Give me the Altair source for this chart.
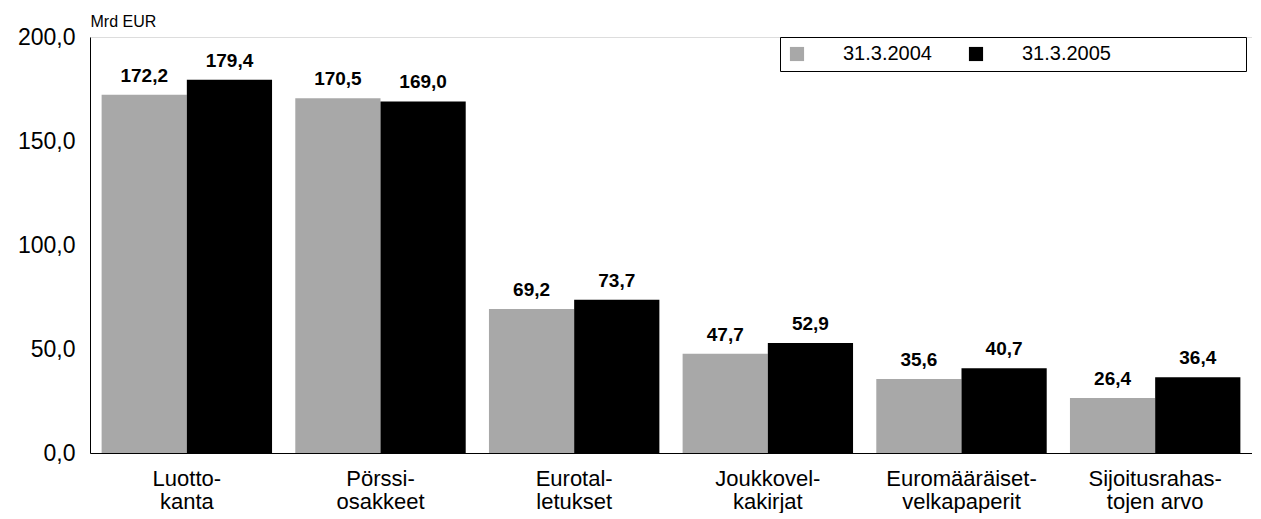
import altair as alt
import pandas as pd

categories = ["Luotto-\nkanta", "Pörssi-\nosakkeet", "Eurotal-\nletukset",
              "Joukkovel-\nkakirjat", "Euromääräiset-\nvelkapaperit", "Sijoitusrahas-\ntojen arvo"]
series = ["31.3.2004", "31.3.2005"]
values_2004 = [172.2, 170.5, 69.2, 47.7, 35.6, 26.4]
values_2005 = [179.4, 169.0, 73.7, 52.9, 40.7, 36.4]
y_ticks = [0, 50, 100, 150, 200]
colors = ["#a8a8a8", "#000000"]

rows = []
for c, a, b in zip(categories, values_2004, values_2005):
    for s, v in zip(series, [a, b]):
        rows.append({"category": c, "series": s, "value": v,
                     "label": f"{v:.1f}".replace(".", ",")})
df = pd.DataFrame(rows)

FONT = "Liberation Sans"

x = alt.X("category:N", sort=categories,
          scale=alt.Scale(paddingInner=0.12, paddingOuter=0.06),
          axis=alt.Axis(title=None, labelAngle=0, labelExpr="split(datum.label, '\\n')",
                        labelFontSize=22, labelLineHeight=23, labelPadding=15,
                        labelBaseline="top", ticks=False, domainColor="black",
                        labelColor="black", labelFont=FONT))
xo = alt.XOffset("series:N", sort=series)
y = alt.Y("value:Q", scale=alt.Scale(domain=[0, 200], nice=False),
          axis=alt.Axis(values=y_ticks, grid=False, ticks=False,
                        labelExpr="replace(format(datum.value, '.1f'), '.', ',')",
                        labelFontSize=23, labelPadding=15, labelColor="black",
                        labelFont=FONT, domainColor="black",
                        title="Mrd EUR", titleAngle=0, titleX=0, titleY=-11,
                        titleAlign="left", titleBaseline="alphabetic",
                        titleFontSize=16, titleFontWeight="normal",
                        titleFont=FONT, titleColor="black"))

bars = alt.Chart(df).mark_bar().encode(
    x=x, xOffset=xo, y=y,
    color=alt.Color("series:N", sort=series,
                    scale=alt.Scale(domain=series, range=colors),
                    legend=alt.Legend(title="\u00a0", titleOrient="right", titlePadding=128,
                                      orient="none", legendX=690, legendY=0,
                                      direction="horizontal", symbolType="square",
                                      symbolSize=200, symbolStrokeWidth=0,
                                      labelFontSize=20, labelFont=FONT, labelColor="black",
                                      labelOffset=36, columnPadding=34, padding=7,
                                      strokeColor="black", fillColor="white"))
)

labels = alt.Chart(df).mark_text(baseline="alphabetic", dy=-13, fontSize=19,
                                 fontWeight="bold", font=FONT, color="black").encode(
    x=x, xOffset=xo, y=y, text="label:N"
)

chart = alt.layer(bars, labels).properties(
    width=1162, height=416,
    padding={"left": 82, "top": 29, "right": 0, "bottom": 60},
    autosize=alt.AutoSizeParams(type="none"),
).configure_view(stroke="black", strokeWidth=1.2
).configure_legend(strokeDash=[3, 2]
).configure(background="white")

chart.save("out.html", embed_options={"renderer": "svg", "actions": False})
